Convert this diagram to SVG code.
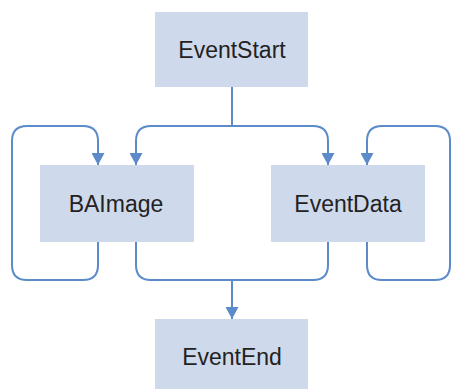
<svg xmlns="http://www.w3.org/2000/svg" width="451" height="389" viewBox="0 0 451 389">
<style>
.box{fill:#cfd9ec;}
.lbl{font-family:"Liberation Sans",Arial,sans-serif;font-size:23px;fill:#222;text-anchor:middle;}
.c{fill:none;stroke:#5b8bc8;stroke-width:2;}
</style>
<defs>
<marker id="ah" markerWidth="12" markerHeight="13" refX="12" refY="6.5" orient="auto" markerUnits="userSpaceOnUse" viewBox="0 0 12 13">
<path d="M0,0 L12,6.5 L0,13 Z" fill="#5b8bc8"/>
</marker>
</defs>
<rect width="451" height="389" fill="#fff"/>
<g id="connectors">
<path class="c" d="M232,87 V126"/>
<path class="c" d="M232,126 H151 Q136,126 136,141 V165" marker-end="url(#ah)"/>
<path class="c" d="M232,126 H313 Q328,126 328,141 V165" marker-end="url(#ah)"/>
<path class="c" d="M98,242 V265 Q98,280 83,280 H27 Q12,280 12,265 V141 Q12,126 27,126 H83 Q98,126 98,141 V165" marker-end="url(#ah)"/>
<path class="c" d="M367,242 V265 Q367,280 382,280 H435 Q450,280 450,265 V141 Q450,126 435,126 H382 Q367,126 367,141 V165" marker-end="url(#ah)"/>
<path class="c" d="M136,242 V265 Q136,280 151,280 H313 Q328,280 328,265 V242"/>
<path class="c" d="M232,280 V319" marker-end="url(#ah)"/>
</g>
<g id="EventStart"><rect class="box" x="155" y="12" width="153" height="75"/><text class="lbl" x="232" y="58">EventStart</text></g>
<g id="BAImage"><rect class="box" x="40" y="165" width="154" height="77"/><text class="lbl" x="116" y="212">BAImage</text></g>
<g id="EventData"><rect class="box" x="271" y="165" width="154" height="77"/><text class="lbl" x="348" y="212">EventData</text></g>
<g id="EventEnd"><rect class="box" x="155" y="319" width="153" height="70"/><text class="lbl" x="232" y="365">EventEnd</text></g>
</svg>
